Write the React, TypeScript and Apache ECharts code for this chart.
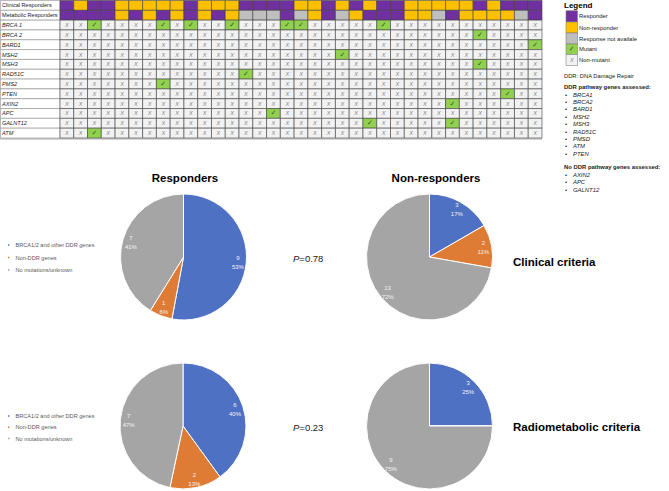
import React, { useEffect, useRef } from 'react';
import * as echarts from 'echarts';

// ---------- Data ----------
const patients = ['1','2','3','4','5','6','7','8','9','10','11','12','13','14','15','16','17','18','19','20','21','22','23','24','25','26','27','28','29','30','31','32','33','34','35'];
const rowLabels = ['Clinical Responders','Metabolic Responders','BRCA 1','BRCA 2','BARD1','MSH2','MSH3','RAD51C','PMS2','PTEN','AXIN2','APC','GALNT12','ATM'];
// R = responder, N = non-responder, U = response not available
const clinicalResponse = ['R','N','R','R','N','N','N','N','N','R','N','N','N','R','R','R','R','N','N','R','N','R','N','R','R','N','N','N','N','N','R','N','R','R','R'];
const metabolicResponse = ['R','R','R','R','N','R','N','R','N','R','N','R','N','U','U','U','R','U','N','R','U','N','R','R','R','N','N','U','R','N','N','N','N','U','R'];
// patients (1-based) carrying a mutation, per gene row
const mutatedPatients = [
  [3, 8, 10, 13, 17, 18, 24], // BRCA 1
  [31],                       // BRCA 2
  [35],                       // BARD1
  [21],                       // MSH2
  [31],                       // MSH3
  [14],                       // RAD51C
  [8],                        // PMS2
  [33],                       // PTEN
  [29],                       // AXIN2
  [16],                       // APC
  [23, 29],                   // GALNT12
  [3],                        // ATM
];

const pieCategories = ['BRCA1/2 and other DDR genes', 'Non-DDR genes', 'No mutations/unknown'];
const clinicalResponders = [9, 1, 7];
const clinicalNonResponders = [3, 2, 13];
const metabolicResponders = [6, 2, 7];
const metabolicNonResponders = [3, 0, 9];
const pValues = ['0.78', '0.23'];

const legendLabels = ['Responder', 'Non-responder', 'Response not availale', 'Mutant', 'Non-mutant'];
const ddrGenes = ['BRCA1', 'BRCA2', 'BARD1', 'MSH2', 'MSH3', 'RAD51C', 'PMSD', 'ATM', 'PTEN'];
const nonDdrGenes = ['AXIN2', 'APC', 'GALNT12'];

// ---------- Styles ----------
const FONT = 'Liberation Sans, Arial, sans-serif';
const PURPLE = '#7030A0';
const YELLOW = '#FFC000';
const NA_GRAY = '#BFBFBF';
const GREEN = '#92D050';
const LIGHT = '#F2F2F2';
const cellFill = [PURPLE, YELLOW, NA_GRAY, GREEN, LIGHT];
const pieColors = ['#4F71C4', '#DE7B35', '#A5A5A5'];

const codeMap: Record<string, number> = { R: 0, N: 1, U: 2 };

function buildCells() {
  const cells: number[][] = [];
  patients.forEach((_, c) => {
    cells.push([c, 0, codeMap[clinicalResponse[c]]]);
    cells.push([c, 1, codeMap[metabolicResponse[c]]]);
    mutatedPatients.forEach((list, g) => {
      cells.push([c, g + 2, list.includes(c + 1) ? 3 : 4]);
    });
  });
  return cells;
}

function pieData(values: number[]) {
  return values.map((v, i) => ({ name: pieCategories[i], value: v, itemStyle: { color: pieColors[i] } }));
}

export default function App() {
  const ref = useRef<HTMLDivElement>(null);
  useEffect(() => {
    if (!ref.current) return;
    const chart = echarts.init(ref.current, undefined, { renderer: 'svg' });
    const cells = buildCells();

    const R = 63;
    const pies = [
      { vals: clinicalResponders, center: [183.5, 257] },
      { vals: clinicalNonResponders, center: [429.5, 257] },
      { vals: metabolicResponders, center: [183, 426] },
      { vals: metabolicNonResponders, center: [429.5, 426] },
    ];
    const pieSeries: any[] = [];
    pies.forEach((p, i) => {
      pieSeries.push({
        type: 'pie', name: 'pie' + i, center: p.center, radius: [0, R], startAngle: 90, clockwise: true,
        label: { show: false }, labelLine: { show: false }, silent: true,
        itemStyle: { borderColor: '#ffffff', borderWidth: 1 },
        data: pieData(p.vals),
      });
    });
    pies.forEach((p, i) => {
      pieSeries.push({
        type: 'pie', name: 'pieLabel' + i, center: p.center, radius: [R * 0.64, R], startAngle: 90, clockwise: true,
        percentPrecision: 0, silent: true, legendHoverLink: false,
        itemStyle: { color: 'rgba(0,0,0,0)', borderWidth: 0 },
        label: {
          show: true, position: 'inside', color: '#F4F4F4', fontSize: 6, lineHeight: 9, fontFamily: FONT,
          formatter: (q: any) => (q.value ? q.value + '\n' + q.percent + '%' : ''),
        },
        labelLine: { show: false },
        data: pieCategories.map((n, k) => ({ name: n, value: p.vals[k] })),
      });
    });

    const graphics: any[] = [];
    // table bottom line
    graphics.push({ type: 'rect', shape: { x: 0, y: 137.8, width: 542, height: 2 }, style: { fill: '#C9C9C9' }, z: 0 });
    // titles
    const bold = (text: string, x: number, y: number, align: string) => ({
      type: 'text', x, y, style: { text, font: 'bold 11.5px ' + FONT, fill: '#000', align, verticalAlign: 'middle' },
    });
    graphics.push(bold('Responders', 185, 178, 'center'));
    graphics.push(bold('Non-responders', 436, 178, 'center'));
    graphics.push(bold('Clinical criteria', 513, 262, 'left'));
    graphics.push(bold('Radiometabolic criteria', 513, 427, 'left'));
    [[258], [427]].forEach((y, i) => {
      graphics.push({
        type: 'text', x: 293, y: y[0],
        style: {
          text: '{i|P}=' + pValues[i], fontSize: 9.5, fontFamily: FONT, fill: '#222', verticalAlign: 'middle',
          rich: { i: { fontStyle: 'italic', fontSize: 9.5, fontFamily: FONT, fill: '#222' } },
        },
      });
    });
    // right legend
    graphics.push({ type: 'text', x: 564, y: 5, style: { text: 'Legend', font: 'bold 8px ' + FONT, fill: '#000', verticalAlign: 'middle' } });
    const boxY = [10.7, 22, 33, 44, 54.5];
    const boxH = [11.3, 11, 11, 10.5, 11];
    legendLabels.forEach((lab, i) => {
      graphics.push({ type: 'rect', shape: { x: 566, y: boxY[i], width: 11.5, height: boxH[i] }, style: { fill: cellFill[i], stroke: '#7F7F7F', lineWidth: 0.6 } });
      graphics.push({ type: 'text', x: 579, y: boxY[i] + boxH[i] / 2, style: { text: lab, fontSize: 5.9, fontFamily: FONT, fill: '#222', verticalAlign: 'middle' } });
    });
    graphics.push({ type: 'text', x: 571.75, y: 49.3, style: { text: '\u2713', fontSize: 7, fontFamily: 'DejaVu Sans', fill: '#375623', align: 'center', verticalAlign: 'middle' } });
    graphics.push({ type: 'text', x: 571.75, y: 60, style: { text: 'X', fontSize: 5.5, fontStyle: 'italic', fontFamily: FONT, fill: '#7F7F7F', align: 'center', verticalAlign: 'middle' } });
    graphics.push({ type: 'text', x: 564, y: 76, style: { text: 'DDR: DNA Damage Repair', fontSize: 5.8, fontFamily: FONT, fill: '#222', verticalAlign: 'middle' } });
    graphics.push({ type: 'text', x: 564, y: 86.5, style: { text: 'DDR pathway genes assessed:', font: 'bold 5.9px ' + FONT, fill: '#222', verticalAlign: 'middle' } });
    ddrGenes.forEach((g, i) => {
      const y = 94.5 + i * 7.4;
      graphics.push({ type: 'text', x: 565, y, style: { text: '\u2022', fontSize: 5.9, fontFamily: FONT, fill: '#222', verticalAlign: 'middle' } });
      graphics.push({ type: 'text', x: 573, y, style: { text: g, fontSize: 5.9, fontStyle: 'italic', fontFamily: FONT, fill: '#222', verticalAlign: 'middle' } });
    });
    graphics.push({ type: 'text', x: 564, y: 167, style: { text: 'No DDR pathway genes assessed:', font: 'bold 5.9px ' + FONT, fill: '#222', verticalAlign: 'middle' } });
    nonDdrGenes.forEach((g, i) => {
      const y = 174.5 + i * 7.7;
      graphics.push({ type: 'text', x: 565, y, style: { text: '\u2022', fontSize: 5.9, fontFamily: FONT, fill: '#222', verticalAlign: 'middle' } });
      graphics.push({ type: 'text', x: 573, y, style: { text: g, fontSize: 5.9, fontStyle: 'italic', fontFamily: FONT, fill: '#222', verticalAlign: 'middle' } });
    });

    const legendBase = {
      orient: 'vertical', left: 6, data: pieCategories, itemWidth: 3.5, itemHeight: 3.5, icon: 'rect',
      padding: 0, selectedMode: false,
      textStyle: { fontSize: 5.6, color: '#595959', fontFamily: FONT, lineHeight: 6 },
    };

    chart.setOption({
      animation: false,
      backgroundColor: '#ffffff',
      grid: { left: 60, top: 0.5, width: 482, height: 137.5, containLabel: false },
      xAxis: { type: 'category', data: patients, show: false },
      yAxis: { type: 'category', data: rowLabels, inverse: true, show: false },
      legend: [
        { ...legendBase, top: 242, itemGap: 6.5 },
        { ...legendBase, top: 413, itemGap: 5.3 },
      ],
      series: [
        {
          type: 'custom', name: 'labels', silent: true,
          data: rowLabels.map((_, r) => [0, r]),
          renderItem: (params: any, api: any) => {
            const r = api.value(1);
            const p = api.coord([0, r]);
            const s = api.size([1, 1]);
            const left = params.coordSys.x;
            return {
              type: 'group',
              children: [
                { type: 'rect', shape: { x: 0.5, y: p[1] - s[1] / 2, width: left - 0.5, height: s[1] }, style: { fill: '#ffffff', stroke: '#8C8C8C', lineWidth: 0.6 } },
                { type: 'text', style: { text: rowLabels[r], x: 2, y: p[1], fontSize: 5.6, fontStyle: r >= 2 ? 'italic' : 'normal', fontFamily: FONT, fill: '#222', verticalAlign: 'middle' } },
              ],
            };
          },
        },
        {
          type: 'custom', name: 'cells', silent: true,
          data: cells,
          renderItem: (_params: any, api: any) => {
            const c = api.value(0), r = api.value(1), t = api.value(2);
            const p = api.coord([c, r]);
            const s = api.size([1, 1]);
            const children: any[] = [
              { type: 'rect', shape: { x: p[0] - s[0] / 2, y: p[1] - s[1] / 2, width: s[0], height: s[1] }, style: { fill: cellFill[t], stroke: '#3F3F3F', lineWidth: 0.6 } },
            ];
            if (t === 3) children.push({ type: 'text', style: { text: '\u2713', x: p[0], y: p[1], fontSize: 7, fontFamily: 'DejaVu Sans', fill: '#375623', align: 'center', verticalAlign: 'middle' } });
            if (t === 4) children.push({ type: 'text', style: { text: 'X', x: p[0], y: p[1], fontSize: 5.5, fontStyle: 'italic', fontFamily: FONT, fill: '#7F7F7F', align: 'center', verticalAlign: 'middle' } });
            return { type: 'group', children };
          },
        },
        ...pieSeries,
      ],
      graphic: graphics,
    });
    return () => chart.dispose();
  }, []);
  return <div ref={ref} style={{ position: 'absolute', left: 0, top: 0, width: 669, height: 491, background: '#fff' }} />;
}
